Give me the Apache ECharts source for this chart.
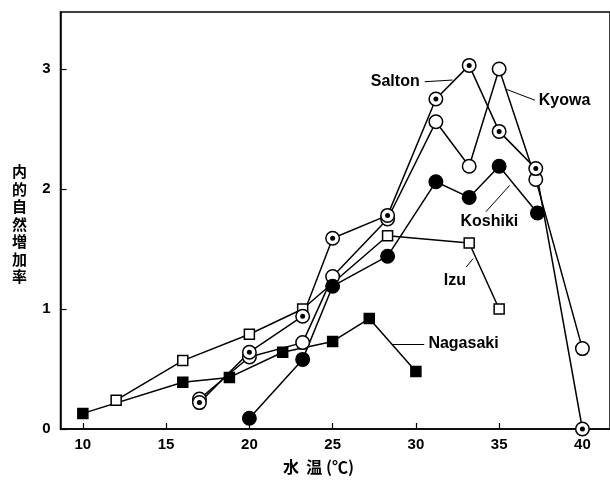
<!DOCTYPE html>
<html>
<head>
<meta charset="utf-8">
<script src="https://cdn.jsdelivr.net/npm/echarts@6/dist/echarts.min.js"></script>
<style>
  html, body { margin: 0; padding: 0; background: #fff; }
  #chart { width: 610px; height: 484px; }
</style>
</head>
<body>
<div id="chart"></div>
<script>
// 目盛り
const xTicks = [10, 15, 20, 25, 30, 35, 40];
const yTicks = [0, 1, 2, 3];

// 各系統 [水温, 内的自然増加率]
const izu = [[12, 0.24], [16, 0.57], [20, 0.79], [23.2, 1.0], [28.3, 1.61], [33.2, 1.55], [35, 1.0]];
const nagasaki = [[10, 0.13], [16, 0.39], [18.8, 0.43], [22, 0.64], [25, 0.73], [27.2, 0.92], [30, 0.48]];
const salton = [[17, 0.22], [20, 0.64], [23.2, 0.94], [25, 1.59], [28.3, 1.78], [31.2, 2.75], [33.2, 3.03], [35, 2.48], [37.2, 2.17], [40, 0]];
const kyowa = [[17, 0.25], [20, 0.6], [23.2, 0.72], [25, 1.27], [28.3, 1.75], [31.2, 2.56], [33.2, 2.19], [35, 3.0], [37.2, 2.08], [40, 0.67]];
const koshiki = [[20, 0.09], [23.2, 0.58], [25, 1.19], [28.3, 1.44], [31.2, 2.06], [33.2, 1.93], [35, 2.19], [37.3, 1.8]];

// 系統名の位置と引き出し線 (データ座標)
const names = [[28.76, 2.894, 'Salton'], [38.93, 2.733, 'Kyowa'], [34.41, 1.728, 'Koshiki'], [32.34, 1.24, 'Izu'], [32.86, 0.71, 'Nagasaki']];
const leaders = [
  [[30.53, 2.894], [32.2, 2.908]],
  [[35.44, 2.83], [37.15, 2.74]],
  [[34.2, 1.81], [35.63, 2.03]],
  [[33.02, 1.35], [33.44, 1.42]],
  [[28.57, 0.71], [30.5, 0.71]]
];

const font = '"Liberation Sans", Arial, sans-serif';
const cjk = '"Noto Sans CJK JP", sans-serif';

let chart = echarts.init(document.getElementById('chart'), null, { renderer: 'canvas' });

// 折れ線だけ
function lineOf(data) {
  return {
    type: 'line', data, showSymbol: false, symbol: 'none', z: 2,
    lineStyle: { color: '#000', width: 1.5 }
  };
}

// 記号だけ
function marksOf(data, symbol, size, fill, z) {
  return {
    type: 'scatter', data, symbol, symbolSize: size, z: z || 3,
    itemStyle: { color: fill, borderColor: '#000', borderWidth: 1.5, opacity: 1 }
  };
}

let option = {
  animation: false,
  backgroundColor: '#fff',
  grid: {
    left: 60.5, top: 12, width: 560, height: 417,
    show: true, borderColor: '#000', borderWidth: 1.5, backgroundColor: 'transparent'
  },
  xAxis: {
    type: 'value', min: 8.657, max: 41.657,
    splitLine: { show: false },
    axisLine: { lineStyle: { color: '#000', width: 1.5 } },
    axisTick: { inside: true, length: 6, customValues: xTicks, lineStyle: { color: '#000', width: 1.2 } },
    axisLabel: { customValues: xTicks, margin: 8, color: '#000', fontSize: 15, fontWeight: 'bold', fontFamily: font }
  },
  yAxis: {
    type: 'value', min: 0, max: 3.475,
    splitLine: { show: false },
    axisLine: { lineStyle: { color: '#000', width: 1.5 } },
    axisTick: { inside: true, length: 6, customValues: yTicks, lineStyle: { color: '#000', width: 1.2 } },
    axisLabel: { customValues: yTicks, margin: 10, color: '#000', fontSize: 15, fontWeight: 'bold', fontFamily: font }
  },
  graphic: [
    {
      type: 'text', left: 12, top: 163,
      style: { text: '内\n的\n自\n然\n増\n加\n率', font: 'bold 15px ' + cjk, lineHeight: 17.5, fill: '#000' }
    },
    {
      type: 'text', left: 283, top: 459,
      style: { text: '水  温 (℃)', font: 'bold 16px ' + cjk, fill: '#000' }
    }
  ],
  series: [
    lineOf(izu), lineOf(nagasaki), lineOf(salton), lineOf(kyowa), lineOf(koshiki),
    marksOf(izu, 'rect', 10, '#fff'),
    marksOf(nagasaki, 'rect', 10, '#000'),
    marksOf(kyowa, 'circle', 13.5, '#fff'),
    marksOf(koshiki, 'circle', 13.5, '#000'),
    marksOf(salton, 'circle', 13.5, '#fff', 4),
    {
      type: 'scatter', data: salton, symbol: 'circle', symbolSize: 5, z: 5,
      itemStyle: { color: '#000', borderWidth: 0, opacity: 1 }
    },
    {
      type: 'scatter', z: 6, symbolSize: 0,
      data: names,
      itemStyle: { opacity: 1 },
      label: {
        show: true, position: 'inside', color: '#000', fontSize: 16, fontWeight: 'bold', fontFamily: font,
        textBorderWidth: 0, formatter: p => p.value[2]
      },
      markLine: {
        silent: true, symbol: ['none', 'none'], label: { show: false },
        lineStyle: { color: '#000', width: 1, type: 'solid', opacity: 1 },
        data: leaders.map(l => [{ coord: l[0] }, { coord: l[1] }])
      }
    }
  ]
};

chart.setOption(option);
</script>
</body>
</html>
